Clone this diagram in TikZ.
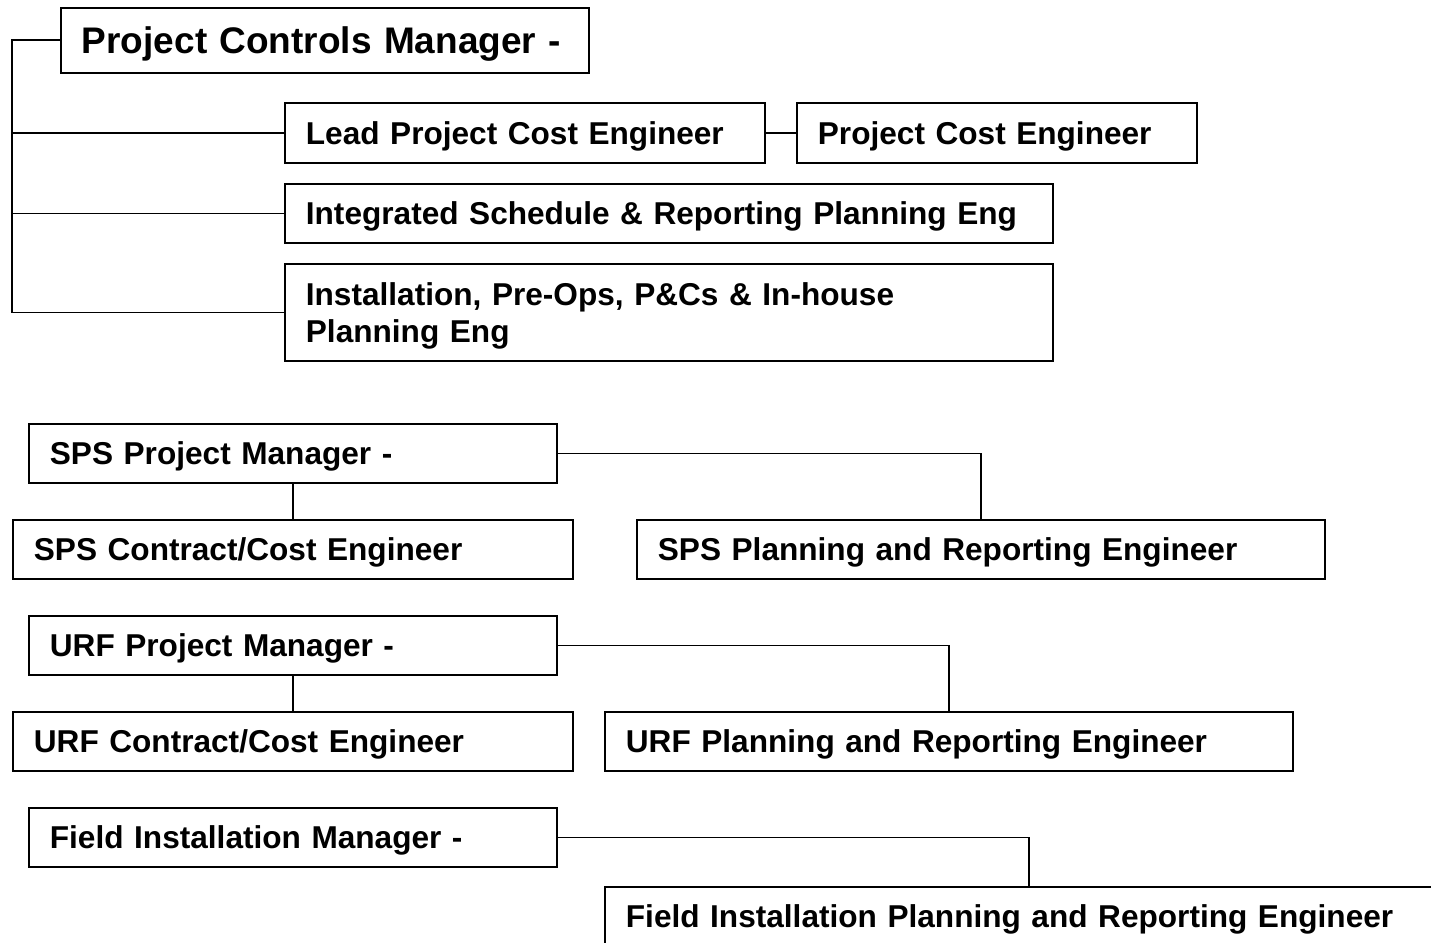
\documentclass[tikz,border=0pt]{standalone}
\usepackage{fontspec}
\setmainfont{Liberation Sans}
\begin{document}
\begin{tikzpicture}[x=1pt,y=-1pt,
    box/.style={draw, line width=1.8pt, anchor=north west, inner xsep=21pt, inner ysep=0pt,
      text depth=0pt, align=left, font=\bfseries\fontsize{31.6}{37}\selectfont},
    link/.style={line width=1.8pt}]
  \useasboundingbox (0,0) rectangle (1431,942);
  \clip (0,0) rectangle (1431,942);
  % project controls group
  \node [box, text width=486, minimum height=65, font=\bfseries\fontsize{37}{42}\selectfont] (pcm) at (60,7) {Project Controls Manager -};
  \node [box, text width=438, minimum height=60] (lpce) at (284,102) {Lead Project Cost Engineer};
  \node [box, text width=358, minimum height=60] (pce) at (796,102) {Project Cost Engineer};
  \node [box, text width=726, minimum height=59] (isr) at (284,183) {Integrated Schedule \& Reporting Planning Eng};
  \node [box, text width=726, minimum height=97, text depth=37pt] (inst) at (284,263) {Installation, Pre-Ops, P\&Cs \& In-house\\Planning Eng};
  \path (pcm.west) ++(-48,0) coordinate (spine);
  \draw [link] (pcm.west) -- (spine) |- (inst.west);
  \draw [link] (lpce.west) -- (lpce.west -| spine);
  \draw [link] (isr.west) -- (isr.west -| spine);
  \draw [link] (lpce.east) -- (pce.west);
  % SPS
  \node [box, text width=486, minimum height=59] (spm) at (28,423) {SPS Project Manager -};
  \node [box, text width=518, minimum height=59] (spc) at (12,519) {SPS Contract/Cost Engineer};
  \node [box, text width=646, minimum height=59] (spp) at (636,519) {SPS Planning and Reporting Engineer};
  \draw [link] (spm.south) -- (spc.north);
  \draw [link] (spm.east) -| (spp.north);
  % URF
  \node [box, text width=486, minimum height=59] (upm) at (28,615) {URF Project Manager -};
  \node [box, text width=518, minimum height=59] (ucc) at (12,711) {URF Contract/Cost Engineer};
  \node [box, text width=646, minimum height=59] (upr) at (604,711) {URF Planning and Reporting Engineer};
  \draw [link] (upm.south) -- (ucc.north);
  \draw [link] (upm.east) -| (upr.north);
  % field installation (box runs off the page)
  \node [box, text width=486, minimum height=59] (fim) at (28,807) {Field Installation Manager -};
  \node [box, text width=806, minimum height=59] (fpr) at (604,886) {Field Installation Planning and Reporting Engineer};
  \draw [link] (fim.east) -| (fpr.north);
\end{tikzpicture}
\end{document}
